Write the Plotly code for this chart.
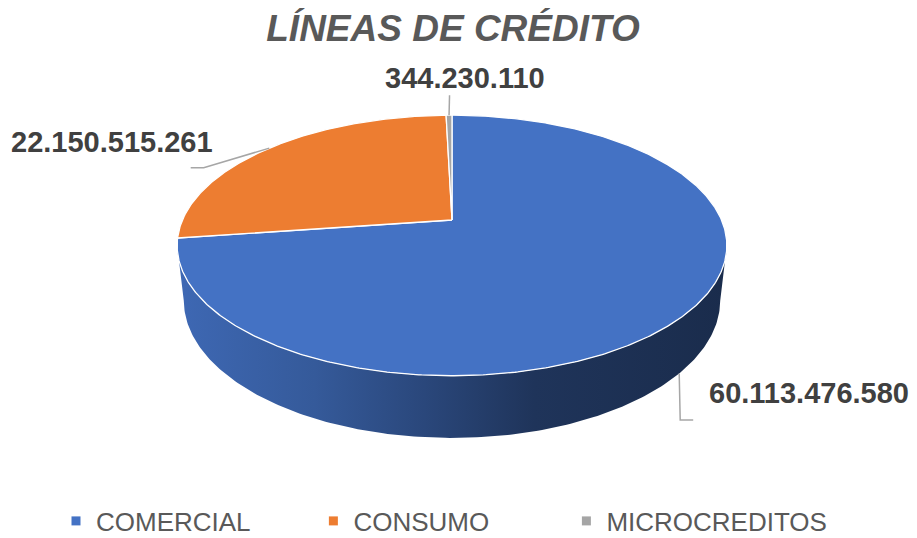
import numpy as np
import plotly.graph_objects as go

# ---------------- data ----------------
categories = ["COMERCIAL", "CONSUMO", "MICROCREDITOS"]
values = [60113476580, 22150515261, 344230110]
colors = ["#4472C4", "#ED7D31", "#A5A5A5"]

# ---------------- style / geometry constants ----------------
W, Hgt = 917, 538
CX, CY = 452.0, 220.0          # projected pie centre (px)
PHI = np.radians(27.7)         # view tilt
D0 = 4.53                      # camera distance (radius units)
F = 1221.0                     # focal scale
DEPTH = 0.2313                 # pie thickness (radius units)
FONT = "Liberation Sans, Arial, sans-serif"
LEADER = "#A6A6A6"
LABEL_COLOR = "#404040"
LEGEND_PAD = [8, 10, 0]        # non-breaking spaces after legend names (spacing)

# shading factors for the side wall (left -> right)
WALL_SHADE = [(0.0, 0.92), (0.25, 0.79), (0.45, 0.63), (0.65, 0.46), (1.0, 0.39)]

# label layout per slice: leader offsets from anchor, label offset, anchor side
LABEL_CFG = [
    dict(path=[(0, 0), (1, 46.5), (14, 46.5)], text=(28, 19.5), xanchor="left"),
    dict(path=[(0, 0), (-65.6, 19.6), (-78.6, 19.6)], text=(-54, -6), xanchor="right"),
    dict(path=[(0, 0), (0.5, -20)], text=(16, -37), xanchor="center"),
]


def proj(theta_deg, h=0.0, r=1.0):
    t = np.radians(theta_deg)
    X = r * np.sin(t)
    Z = r * np.cos(t)
    up = Z * np.sin(PHI) + h * np.cos(PHI)
    depth = Z * np.cos(PHI) - h * np.sin(PHI) + D0
    return CX + F * X / depth, CY - F * up / depth


def shade(hex_color, f):
    r, g, b = (int(hex_color[i:i + 2], 16) for i in (1, 3, 5))
    return "rgb(%d,%d,%d)" % (r * f, g * f, b * f)


total = float(sum(values))
fracs = [v / total for v in values]
bounds = np.concatenate([[0.0], np.cumsum(fracs) * 360.0])

theta_r = np.degrees(np.arccos(-np.cos(PHI) / D0))
theta_l = 360.0 - theta_r

fig = go.Figure()

# ---- side walls ----
for i, c in enumerate(colors):
    a0, a1 = bounds[i], bounds[i + 1]
    lo, hi = max(a0, theta_r), min(a1, theta_l)
    if hi <= lo:
        continue
    th = np.linspace(lo, hi, 200)
    xt, yt = proj(th, 0.0)
    xb, yb = proj(th[::-1], -DEPTH)
    xs = np.concatenate([xt, xb, xt[:1]])
    ys = np.concatenate([yt, yb, yt[:1]])
    fig.add_trace(go.Scatter(
        x=xs, y=ys, mode="lines", fill="toself",
        line=dict(width=0, color=c),
        fillgradient=dict(type="horizontal",
                          colorscale=[[p, shade(c, f)] for p, f in WALL_SHADE]),
        hoverinfo="skip", showlegend=False))

# ---- top faces ----
for i, c in enumerate(colors):
    a0, a1 = bounds[i], bounds[i + 1]
    n = max(4, int((a1 - a0) * 2))
    th = np.linspace(a0, a1, n)
    xa, ya = proj(th, 0.0)
    xs = np.concatenate([[CX], xa, [CX]])
    ys = np.concatenate([[CY], ya, [CY]])
    fig.add_trace(go.Scatter(
        x=xs, y=ys, mode="lines", fill="toself", fillcolor=c,
        line=dict(width=1.3, color="white"),
        hoverinfo="skip", showlegend=False))

# ---- leader lines and data labels ----
annotations = []
for i, v in enumerate(values):
    mid = (bounds[i] + bounds[i + 1]) / 2.0
    if theta_r <= mid <= theta_l:
        ax, ay = proj(mid, -DEPTH)
    else:
        ax, ay = proj(mid, 0.0)
    cfg = LABEL_CFG[i]
    px = [ax + dx for dx, dy in cfg["path"]]
    py = [ay + dy for dx, dy in cfg["path"]]
    fig.add_trace(go.Scatter(x=px, y=py, mode="lines",
                             line=dict(color=LEADER, width=1.5),
                             hoverinfo="skip", showlegend=False))
    txt = "{:,}".format(v).replace(",", ".")
    annotations.append(dict(
        x=ax + cfg["text"][0], y=ay + cfg["text"][1], xref="x", yref="y",
        text="<b>%s</b>" % txt, showarrow=False, xanchor=cfg["xanchor"],
        yanchor="middle", font=dict(family=FONT, size=29, color=LABEL_COLOR)))

# ---- legend entries ----
for cat, c, pad in zip(categories, colors, LEGEND_PAD):
    fig.add_trace(go.Scatter(x=[None], y=[None], mode="markers",
                             name=cat + "\u00a0" * pad,
                             marker=dict(symbol="square", size=9, color=c)))

fig.update_layout(
    width=W, height=Hgt,
    margin=dict(l=0, r=0, t=0, b=0, pad=0, autoexpand=False),
    paper_bgcolor="white", plot_bgcolor="white",
    title=dict(text="<b><i>LÍNEAS DE CRÉDITO</i></b>", x=0.494, xanchor="center",
               y=1 - 28 / Hgt, yanchor="middle", yref="paper",
               font=dict(family=FONT, size=37, color="#595959")),
    xaxis=dict(range=[0, W], visible=False, fixedrange=True),
    yaxis=dict(range=[Hgt, 0], visible=False, fixedrange=True),
    showlegend=True,
    legend=dict(orientation="h", x=56 / W, xanchor="left",
                y=1 - 521 / Hgt, yanchor="middle",
                font=dict(family=FONT, size=26, color="#595959"),
                itemwidth=30, bgcolor="rgba(0,0,0,0)"),
    annotations=annotations,
)

fig.write_html("out.html",
               config={"displayModeBar": False},
               post_script="document.body.style.margin='0px';"
                           "document.body.style.overflow='hidden';")
